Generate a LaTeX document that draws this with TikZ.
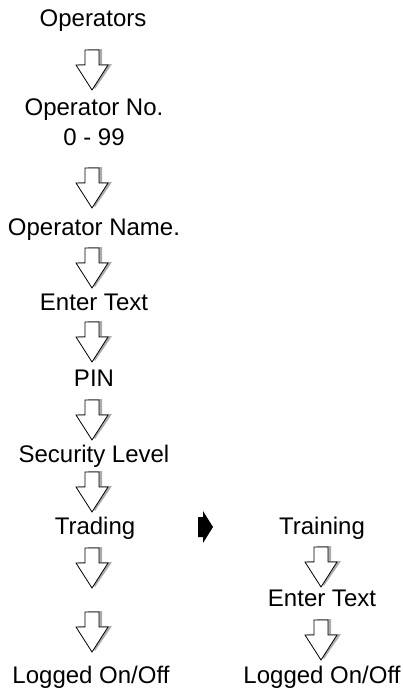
\documentclass[tikz,border=0pt]{standalone}
\usepackage{fontspec}
\setmainfont{Liberation Sans}

\tikzset{
  txt/.style={font=\fontsize{18}{20}\selectfont, inner sep=0pt, text height=12.9pt, text depth=0pt},
  % hollow down arrow with shadow, origin at top of shaft
  downarrow/.pic={
    \fill[gray!65] (-4,-1) -- (10,-1) -- (10,14) -- (20,14) -- (3,39) -- (-14,14) -- (-4,14) -- cycle;
    \draw[fill=white, line width=0.6pt, line join=miter] (-7,0) -- (7,0) -- (7,15) -- (16,15) -- (0,40) -- (-16,15) -- (-7,15) -- cycle;
  }
}

\begin{document}
\begin{tikzpicture}[x=0.75pt, y=-0.75pt]
	\useasboundingbox (0,0) rectangle (403,690);

	% left column
	\node[txt] (op)        at (93,18)  {Operators};
	\node[txt] (opno)      at (94,107) {Operator No.};
	\node[txt] (oprange)   at (94,137) {0 - 99};
	\node[txt] (opname)    at (94,227) {Operator Name.};
	\node[txt] (entertext) at (94,302) {Enter Text};
	\node[txt] (pin)       at (94,378) {PIN};
	\node[txt] (seclevel)  at (94,454) {Security Level};
	\node[txt] (trading)   at (95,526) {Trading};
	\node[txt] (loggedL)   at (91,675) {Logged On/Off};

	% right column
	\node[txt] (training)   at (322,526) {Training};
	\node[txt] (entertextR) at (322,598) {Enter Text};
	\node[txt] (loggedR)    at (322,675) {Logged On/Off};

	% block arrows
	\foreach \y in {50,168,248,322,400,472,548,612}
		\pic at (92,\y) {downarrow};
	\foreach \y in {547,620}
		\pic at (321,\y) {downarrow};

	% branch marker
	\fill (198,517) -- (203,517) -- (203,511) -- (213,527) -- (203,543) -- (203,537) -- (198,537) -- cycle;

\end{tikzpicture}
\end{document}
